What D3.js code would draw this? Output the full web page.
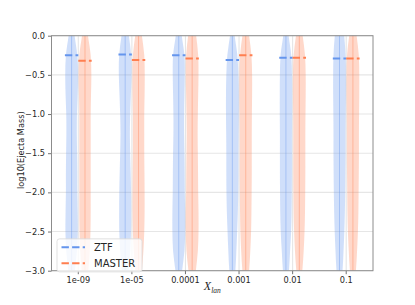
<!DOCTYPE html>
<html>
<head>
<meta charset="utf-8">
<script src="https://cdn.jsdelivr.net/npm/d3@7"></script>
<style>
  body { margin: 0; background: #fff; }
  svg { display: block; font-family: "DejaVu Sans", sans-serif; }
</style>
</head>
<body>
<div id="chart"></div>
<script>
// categories on the x axis
const categories = ['1e-09', '1e-05', '0.0001', '0.001', '0.01', '0.1'];
const seriesNames = ['ZTF', 'MASTER'];
const yTicks = [0, -0.5, -1, -1.5, -2, -2.5, -3];

// mean log10(Ejecta Mass) per category (dashed lines)
const ztfMean = [-0.25, -0.24, -0.25, -0.31, -0.28, -0.29];
const masterMean = [-0.32, -0.31, -0.29, -0.25, -0.28, -0.29];

// levels where the violin density is read, and relative widths per category
const densityLevels = [0.25, 0, -0.25, -0.5, -0.75, -1, -1.25, -1.5, -1.75, -2, -2.25, -2.5, -2.75, -3, -3.25];
const ztfDensity = [
  [0.1, 0.45, 0.85, 0.95, 0.9, 0.8, 0.78, 0.82, 0.85, 0.85, 0.9, 0.92, 0.8, 0.5, 0.15],
  [0.15, 0.55, 0.9, 0.95, 0.85, 0.75, 0.7, 0.75, 0.82, 0.88, 0.9, 0.88, 0.75, 0.5, 0.15],
  [0.1, 0.45, 0.85, 0.9, 0.85, 0.8, 0.8, 0.85, 0.88, 0.9, 0.95, 0.95, 0.85, 0.5, 0.15],
  [0.05, 0.35, 0.75, 0.9, 0.95, 0.95, 0.92, 0.9, 0.9, 0.88, 0.82, 0.72, 0.6, 0.45, 0.1],
  [0.05, 0.4, 0.8, 0.9, 0.92, 0.92, 0.9, 0.9, 0.9, 0.88, 0.85, 0.78, 0.62, 0.45, 0.1],
  [0.3, 0.7, 0.9, 0.95, 0.95, 0.92, 0.9, 0.9, 0.88, 0.85, 0.8, 0.72, 0.6, 0.45, 0.1]
];
const masterDensity = [
  [0.1, 0.45, 0.85, 0.95, 0.9, 0.85, 0.85, 0.85, 0.85, 0.85, 0.85, 0.82, 0.72, 0.5, 0.15],
  [0.1, 0.5, 0.85, 0.92, 0.9, 0.85, 0.85, 0.85, 0.88, 0.9, 0.9, 0.85, 0.72, 0.5, 0.15],
  [0.2, 0.6, 0.9, 0.95, 0.9, 0.85, 0.82, 0.85, 0.88, 0.9, 0.95, 0.95, 0.85, 0.55, 0.15],
  [0.1, 0.5, 0.85, 0.95, 0.95, 0.92, 0.9, 0.9, 0.9, 0.88, 0.85, 0.8, 0.68, 0.5, 0.15],
  [0.1, 0.5, 0.85, 0.95, 0.95, 0.92, 0.9, 0.9, 0.9, 0.88, 0.85, 0.78, 0.65, 0.45, 0.1],
  [0.1, 0.55, 0.88, 0.95, 0.95, 0.92, 0.9, 0.9, 0.88, 0.85, 0.82, 0.75, 0.62, 0.45, 0.1]
];

class ViolinChart {

  constructor(_config) {
    this.config = {
      parentElement: _config.parentElement,
      containerWidth: _config.containerWidth || 415,
      containerHeight: _config.containerHeight || 305,
      margin: _config.margin || {top: 35.7, right: 42, bottom: 34.3, left: 51.5},
      colors: {ZTF: '#6495ed', MASTER: '#ff7f50'}
    }
    this.initVis();
  }

  initVis() {
    let vis = this;

    vis.width = vis.config.containerWidth - vis.config.margin.left - vis.config.margin.right;
    vis.height = vis.config.containerHeight - vis.config.margin.top - vis.config.margin.bottom;

    vis.svg = d3.select(vis.config.parentElement).append('svg')
        .attr('width', vis.config.containerWidth)
        .attr('height', vis.config.containerHeight);

    vis.chart = vis.svg.append('g')
        .attr('transform', `translate(${vis.config.margin.left},${vis.config.margin.top})`);

    vis.svg.append('defs').append('clipPath')
        .attr('id', 'plot-clip')
      .append('rect')
        .attr('width', vis.width)
        .attr('height', vis.height);

    vis.xScale = d3.scaleBand()
        .domain(categories)
        .range([0, vis.width])
        .padding(0);

    // each hue takes a quarter of the category step
    vis.hueScale = d3.scaleBand()
        .domain(seriesNames)
        .range([-vis.xScale.step() * 0.25, vis.xScale.step() * 0.25]);

    vis.yScale = d3.scaleLinear()
        .domain([-3, 0])
        .range([vis.height, 0]);

    vis.widthScale = d3.scaleLinear()
        .domain([0, 1])
        .range([0, vis.hueScale.bandwidth() / 2]);

    // gridlines
    vis.chart.append('g')
        .selectAll('line.hgrid')
        .data(yTicks)
        .join('line')
        .attr('x1', 0).attr('x2', vis.width)
        .attr('y1', d => vis.yScale(d)).attr('y2', d => vis.yScale(d))
        .attr('stroke', '#e6e6e6')
        .attr('stroke-width', 1.1);

    vis.chart.append('g')
        .selectAll('line.vgrid')
        .data(categories)
        .join('line')
        .attr('x1', d => vis.xScale(d) + vis.xScale.bandwidth() / 2)
        .attr('x2', d => vis.xScale(d) + vis.xScale.bandwidth() / 2)
        .attr('y1', 0).attr('y2', vis.height)
        .attr('stroke', '#e6e6e6')
        .attr('stroke-width', 1.1);

    vis.renderVis();
  }

  renderVis() {
    let vis = this;
    const plot = vis.chart.append('g').attr('clip-path', 'url(#plot-clip)');

    const series = [
      {name: 'ZTF', mean: ztfMean, density: ztfDensity},
      {name: 'MASTER', mean: masterMean, density: masterDensity}
    ];

    const hueCenter = (cat, name) => vis.xScale(cat) + vis.xScale.bandwidth() / 2
        + vis.hueScale(name) + vis.hueScale.bandwidth() / 2;

    series.forEach(s => {
      const color = vis.config.colors[s.name];
      categories.forEach((cat, i) => {
        const cx = hueCenter(cat, s.name);
        const pts = densityLevels.map((lv, j) => ({level: lv, w: s.density[i][j]}));
        const area = d3.area()
            .curve(d3.curveCatmullRom)
            .y(d => vis.yScale(d.level))
            .x0(d => cx - vis.widthScale(d.w))
            .x1(d => cx + vis.widthScale(d.w));
        plot.append('path')
            .datum(pts)
            .attr('d', area)
            .attr('fill', color)
            .attr('fill-opacity', 0.3);
        plot.append('line')
            .attr('x1', cx).attr('x2', cx)
            .attr('y1', vis.yScale(densityLevels[0])).attr('y2', vis.yScale(densityLevels[densityLevels.length - 1]))
            .attr('stroke', color)
            .attr('stroke-opacity', 0.4)
            .attr('stroke-width', 1);
      });
    });

    // dashed mean lines
    series.forEach(s => {
      plot.append('g')
          .selectAll('line')
          .data(categories)
          .join('line')
          .attr('x1', (d) => hueCenter(d, s.name) - vis.hueScale.bandwidth() / 2)
          .attr('x2', (d) => hueCenter(d, s.name) + vis.hueScale.bandwidth() / 2)
          .attr('y1', (d, i) => vis.yScale(s.mean[i]))
          .attr('y2', (d, i) => vis.yScale(s.mean[i]))
          .attr('stroke', vis.config.colors[s.name])
          .attr('stroke-width', 2)
          .attr('stroke-dasharray', '7.4,3.2');
    });

    // axes
    const xAxis = d3.axisBottom(vis.xScale).tickSize(3.5).tickPadding(3);
    const yAxis = d3.axisLeft(vis.yScale).tickValues(yTicks).tickFormat(d3.format('.1f')).tickSize(3.5).tickPadding(3);

    const xg = vis.chart.append('g')
        .attr('transform', `translate(0,${vis.height})`)
        .call(xAxis);
    const yg = vis.chart.append('g').call(yAxis);

    [xg, yg].forEach(g => {
      g.select('.domain').remove();
      g.selectAll('.tick line').attr('stroke', '#4d4d4d').attr('stroke-width', 0.8);
      g.selectAll('.tick text')
          .attr('fill', '#262626')
          .style('font-size', '8.2px')
          .style('font-family', '"DejaVu Sans", sans-serif');
    });

    // spines
    vis.chart.append('rect')
        .attr('width', vis.width)
        .attr('height', vis.height)
        .attr('fill', 'none')
        .attr('stroke', '#8c8c8c')
        .attr('stroke-width', 1);

    // axis titles
    vis.svg.append('text')
        .attr('transform', `translate(21,${vis.config.margin.top + vis.height / 2 - 3}) rotate(-90)`)
        .attr('text-anchor', 'middle')
        .attr('dy', '0.35em')
        .attr('fill', '#262626')
        .style('font-size', '8.2px')
        .text('log10(Ejecta Mass)');

    const xl = vis.svg.append('text')
        .attr('x', vis.config.margin.left + vis.width / 2)
        .attr('y', 290)
        .attr('text-anchor', 'middle')
        .attr('fill', '#262626')
        .style('font-family', '"Liberation Serif", serif')
        .style('font-style', 'italic');
    xl.append('tspan').style('font-size', '12px').text('X');
    xl.append('tspan').style('font-size', '7.5px').attr('dy', 2.5).text('lan');

    // legend
    const legend = vis.chart.append('g')
        .attr('transform', `translate(5.5,${vis.yScale(-2.6) - 0.5})`);
    legend.append('rect')
        .attr('width', 85).attr('height', 33)
        .attr('rx', 2.5)
        .attr('fill', '#fff').attr('fill-opacity', 0.8)
        .attr('stroke', '#d9d9d9').attr('stroke-width', 0.8);
    seriesNames.forEach((name, i) => {
      const ly = 8.5 + i * 16;
      legend.append('line')
          .attr('x1', 4.5).attr('x2', 28)
          .attr('y1', ly).attr('y2', ly)
          .attr('stroke', vis.config.colors[name])
          .attr('stroke-width', 2)
          .attr('stroke-dasharray', '7.4,3.2');
      legend.append('text')
          .attr('x', 37).attr('y', ly)
          .attr('dy', '0.36em')
          .attr('fill', '#262626')
          .style('font-size', '10px')
          .text(name);
    });
  }
}

new ViolinChart({parentElement: '#chart'});
</script>
</body>
</html>
